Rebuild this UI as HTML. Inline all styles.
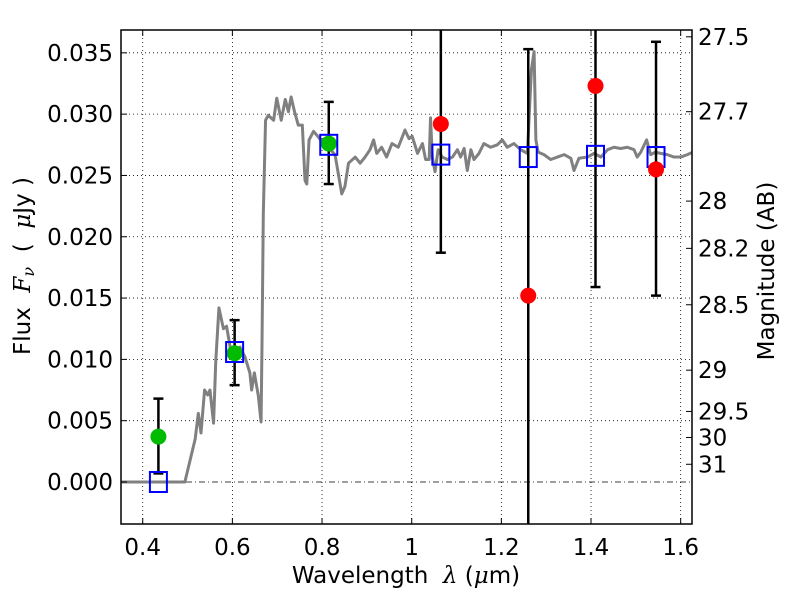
<!DOCTYPE html>
<html><head><meta charset="utf-8"><style>
body{margin:0;background:#fff;}
svg text{font-family:"DejaVu Sans","Liberation Sans",sans-serif;font-size:23px;fill:#000;}
</style></head><body>
<svg id="chart" width="800" height="600" viewBox="0 0 800 600" xmlns="http://www.w3.org/2000/svg">
<rect width="800" height="600" fill="#fff"/>
<g id="grid"></g><g id="marks"></g><g id="axes"></g>
</svg>
<script>
const xTicks=[0.4,0.6,0.8,1.0,1.2,1.4,1.6];
const xTickLabels=["0.4","0.6","0.8","1","1.2","1.4","1.6"];
const yTicks=[0,0.005,0.01,0.015,0.02,0.025,0.03,0.035];
const yTickLabels=["0.000","0.005","0.010","0.015","0.020","0.025","0.030","0.035"];
const magTicks=[27.5,27.7,28,28.2,28.5,29,29.5,30,31];
const magLabels=["27.5","27.7","28","28.2","28.5","29","29.5","30","31"];
const specWl=[0.353,0.494,0.517,0.524,0.530,0.538,0.545,0.550,0.558,0.563,0.570,0.580,0.587,0.595,0.606,0.617,0.628,0.639,0.643,0.649,0.658,0.664,0.666,0.669,0.674,0.680,0.692,0.699,0.709,0.718,0.725,0.731,0.738,0.747,0.756,0.762,0.766,0.771,0.781,0.788,0.799,0.814,0.829,0.844,0.851,0.859,0.874,0.885,0.896,0.907,0.915,0.922,0.933,0.944,0.956,0.970,0.985,0.994,1.001,1.013,1.024,1.031,1.039,1.042,1.046,1.052,1.059,1.068,1.080,1.091,1.102,1.109,1.117,1.124,1.132,1.139,1.150,1.161,1.176,1.191,1.202,1.213,1.228,1.243,1.258,1.267,1.273,1.277,1.282,1.295,1.310,1.325,1.340,1.355,1.362,1.373,1.392,1.407,1.422,1.437,1.451,1.466,1.481,1.496,1.503,1.511,1.524,1.533,1.544,1.555,1.570,1.585,1.600,1.615,1.627];
const specFlux=[0,0,0.0035,0.0056,0.0040,0.0075,0.0071,0.0075,0.0048,0.0099,0.0142,0.0125,0.0127,0.0110,0.0108,0.0110,0.0102,0.0089,0.0075,0.0089,0.0070,0.0049,0.0110,0.0219,0.0295,0.0299,0.0295,0.0313,0.0295,0.0312,0.0302,0.0314,0.0303,0.0291,0.0291,0.0246,0.0243,0.0279,0.0286,0.0283,0.0278,0.0273,0.0267,0.0235,0.0241,0.0260,0.0265,0.0260,0.0265,0.0271,0.0279,0.0268,0.0273,0.0265,0.0276,0.0273,0.0287,0.0280,0.0282,0.0268,0.0276,0.0263,0.0263,0.0297,0.0265,0.0253,0.0271,0.0265,0.0263,0.0265,0.0271,0.0265,0.0272,0.0254,0.0271,0.0263,0.0268,0.0276,0.0273,0.0275,0.0279,0.0273,0.0276,0.0271,0.0268,0.0336,0.0351,0.0279,0.0269,0.0267,0.0263,0.0265,0.0267,0.0264,0.0254,0.0264,0.0265,0.0268,0.0265,0.0271,0.0273,0.0272,0.0273,0.0271,0.0265,0.0269,0.0279,0.0267,0.0269,0.0268,0.0267,0.0265,0.0265,0.0267,0.0269];
const modelWl=[0.435,0.605,0.815,1.065,1.26,1.41,1.545];
const modelFlux=[0.0,0.0106,0.0275,0.0267,0.0265,0.0266,0.0265];
const detWl=[0.435,0.605,0.815];
const detFlux=[0.0037,0.0105,0.0276];
const detLo=[0.0007,0.0079,0.0243];
const detHi=[0.0068,0.0132,0.0310];
const ndWl=[1.065,1.26,1.41,1.545];
const ndFlux=[0.0292,0.0152,0.0323,0.0255];
const ndLo=[0.0187,-0.01,0.0159,0.0152];
const ndHi=[0.045,0.0353,0.045,0.0359];

const L=121,R=692,T=30,B=524;
const X=v=>411.7+(v-1.0)*448.3;
const Y=v=>482-v*12262;
const NS="http://www.w3.org/2000/svg";
function mk(p,tag,a){const e=document.createElementNS(NS,tag);for(const k in a)e.setAttribute(k,a[k]);p.appendChild(e);return e;}
const grid=document.getElementById('grid'),marks=document.getElementById('marks'),axes=document.getElementById('axes');
const defs=mk(document.getElementById('chart'),'defs',{});
const cp=mk(defs,'clipPath',{id:'clip'});mk(cp,'rect',{x:L,y:T,width:R-L,height:B-T});
marks.setAttribute('clip-path','url(#clip)');

xTicks.forEach((t,i)=>{
 const g=mk(grid,'line',{x1:X(t),x2:X(t),y1:T,y2:B,stroke:'#000','stroke-width':0.8,'stroke-dasharray':'1,3'});
 
 mk(axes,'line',{x1:X(t),x2:X(t),y1:B,y2:B-6,stroke:'#000','stroke-width':1});
 mk(axes,'line',{x1:X(t),x2:X(t),y1:T,y2:T+6,stroke:'#000','stroke-width':1});
 const tx=mk(axes,'text',{x:X(t),y:B+31,'text-anchor':'middle'});tx.textContent=xTickLabels[i];
 
});
yTicks.forEach((t,i)=>{
 const g=mk(grid,'line',{x1:L,x2:R,y1:Y(t),y2:Y(t),stroke:'#000','stroke-width':0.8,'stroke-dasharray':t===0?'6,3,1,3':'1,3'});
 
 mk(axes,'line',{x1:L,x2:L+6,y1:Y(t),y2:Y(t),stroke:'#000','stroke-width':1});
 const tx=mk(axes,'text',{x:L-8,y:Y(t)+8,'text-anchor':'end'});tx.textContent=yTickLabels[i];
 
});
magTicks.forEach((m,i)=>{
 const y=Y(Math.pow(10,(23.9-m)/2.5));
 mk(axes,'line',{x1:R-6,x2:R,y1:y,y2:y,stroke:'#000','stroke-width':1});
 const tx=mk(axes,'text',{x:R+6,y:y+8,'text-anchor':'start'});tx.textContent=magLabels[i];
 
});

const sp=mk(marks,'polyline',{points:specWl.map((w,i)=>X(w)+','+Y(specFlux[i])).join(' '),fill:'none',stroke:'#808080','stroke-width':3,'stroke-linejoin':'round'});


function ebar(w,lo,hi){
 const g=mk(marks,'g',{});
 
 mk(g,'line',{x1:X(w),x2:X(w),y1:Y(lo),y2:Y(hi),stroke:'#000','stroke-width':2.5});
 mk(g,'line',{x1:X(w)-5,x2:X(w)+5,y1:Y(lo),y2:Y(lo),stroke:'#000','stroke-width':2.5});
 mk(g,'line',{x1:X(w)-5,x2:X(w)+5,y1:Y(hi),y2:Y(hi),stroke:'#000','stroke-width':2.5});
}
detWl.forEach((w,i)=>ebar(w,detLo[i],detHi[i]));
ndWl.forEach((w,i)=>ebar(w,ndLo[i],ndHi[i]));
detWl.forEach((w,i)=>{
 const c=mk(marks,'circle',{cx:X(w),cy:Y(detFlux[i]),r:8,fill:'#00bb00'});
 
});
modelWl.forEach((w,i)=>{
 const r=mk(marks,'rect',{x:X(w)-8.5,y:Y(modelFlux[i])-10,width:17,height:20,fill:'none',stroke:'#0000ff','stroke-width':2});
 
});
ndWl.forEach((w,i)=>{
 const c=mk(marks,'circle',{cx:X(w),cy:Y(ndFlux[i]),r:8,fill:'#ff0000'});
 
});

const fr=mk(axes,'rect',{x:L,y:T,width:R-L,height:B-T,fill:'none',stroke:'#000','stroke-width':1.5});

let t=mk(axes,'text',{x:406,y:583,'text-anchor':'middle'});
t.innerHTML='Wavelength\u00a0\u00a0<tspan font-style="italic" font-family="DejaVu Serif, serif">λ</tspan> (<tspan font-style="italic" font-family="DejaVu Serif, serif">μ</tspan>m)';

t=mk(axes,'text',{x:30,y:266,'text-anchor':'middle',transform:'rotate(-90 30 266)'});
t.innerHTML='Flux\u00a0\u00a0<tspan font-style="italic" font-family="DejaVu Serif, serif">F</tspan><tspan font-style="italic" font-family="DejaVu Serif, serif" font-size="16" dy="4">ν</tspan><tspan dy="-4">\u00a0\u00a0(\u00a0\u00a0</tspan><tspan font-style="italic" font-family="DejaVu Serif, serif">μ</tspan>Jy\u00a0)';

t=mk(axes,'text',{x:774,y:271,'text-anchor':'middle',transform:'rotate(-90 774 271)'});
t.textContent='Magnitude (AB)';

</script>
</body></html>
